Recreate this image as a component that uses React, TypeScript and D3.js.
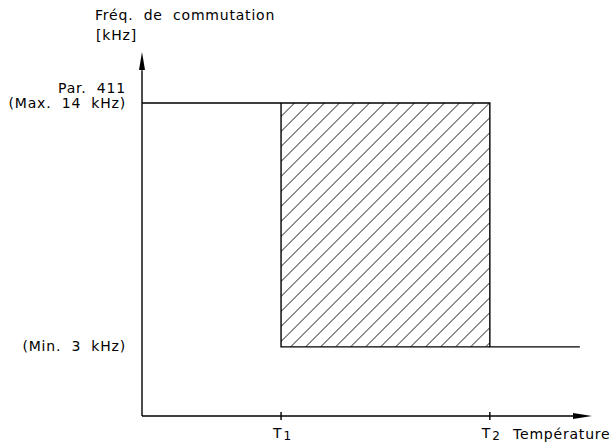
import React from "react";
import * as d3 from "d3";

// schematic data (normalized units)
const freqLevels = [0.19, 0.86]; // min, max switching frequency level
const levelLabelsMax = ["Par. 411", "(Max. 14 kHz)"];
const levelLabelsMin = ["(Min. 3 kHz)"];
const tempTicks = [3.09, 7.73];
const tempTickNames = ["1", "2"];
const xEnd = 9.73;
const yTitle = ["Fréq. de commutation", "[kHz]"];
const xTitle = "Température";

const W = 610, H = 443;
const FONT = "DejaVu Sans";

export default function App() {
  const x = d3.scaleLinear().domain([0, 10]).range([142, 592]);
  const y = d3.scaleLinear().domain([0, 1]).range([416, 52]);
  const [minL, maxL] = freqLevels;
  const [t1, t2] = tempTicks;

  const rx = x(t1), rw = x(t2) - x(t1);
  const ry = y(maxL), rh = y(minL) - y(maxL);

  const hatch: JSX.Element[] = [];
  const step = 15;
  const c0 = Math.floor((rx + ry) / step) * step + 7.5;
  for (let c = c0 - step; c <= rx + rw + ry + rh + step; c += step) {
    // line x + y = c  (rising to the right)
    hatch.push(
      <line key={c} x1={c - (ry + rh) - 2} y1={ry + rh + 2} x2={c - ry + 2} y2={ry - 2} stroke="#000" strokeWidth={0.9} />
    );
  }

  const line = d3.line<[number, number]>().x(d => x(d[0])).y(d => y(d[1]));
  const topPath = line([[0, maxL], [t2, maxL], [t2, minL], [xEnd, minL]]);
  const leftRect = line([[t1, maxL], [t1, minL], [t2, minL]]);

  const ts = { fontFamily: FONT, fontSize: 14, fill: "#000", letterSpacing: 0.8, wordSpacing: 5 } as any;

  return (
    <svg width={W} height={H} style={{ position: "absolute", left: 0, top: 0, background: "#fff" }}>
      <defs>
        <clipPath id="hc"><rect x={rx} y={ry} width={rw} height={rh} /></clipPath>
      </defs>
      <rect width={W} height={H} fill="#fff" />
      <g clipPath="url(#hc)">{hatch}</g>
      <path d={topPath || ""} fill="none" stroke="#000" strokeWidth={1.4} />
      <path d={leftRect || ""} fill="none" stroke="#000" strokeWidth={1.4} />
      {/* axes */}
      <line x1={x(0)} y1={y(0)} x2={x(0)} y2={y(0.95)} stroke="#000" strokeWidth={1.4} />
      <path d={`M${x(0)},${y(1)} L${x(0) - 3},${y(1) + 18} L${x(0) + 3},${y(1) + 18} Z`} fill="#000" />
      <line x1={x(0)} y1={y(0)} x2={x(9.6)} y2={y(0)} stroke="#000" strokeWidth={1.4} />
      <path d={`M${x(10)},${y(0)} L${x(10) - 19},${y(0) - 3} L${x(10) - 19},${y(0) + 3} Z`} fill="#000" />
      {tempTicks.map((t, i) => (
        <g key={i}>
          <line x1={x(t)} y1={y(0) - 4} x2={x(t)} y2={y(0) + 4} stroke="#000" strokeWidth={1.4} />
          <text x={x(t) - 8} y={y(0) + 22} style={ts}>T<tspan dx={1} dy={2} fontSize={12}>{tempTickNames[i]}</tspan></text>
        </g>
      ))}
      <text x={513} y={y(0) + 23} style={ts}>{xTitle}</text>
      <text x={95} y={20} style={ts}>{yTitle[0]}</text>
      <text x={96} y={40} style={ts}>{yTitle[1]}</text>
      <text x={126} y={y(maxL) - 10} textAnchor="end" style={ts}>{levelLabelsMax[0]}</text>
      <text x={126} y={y(maxL) + 5} textAnchor="end" style={ts}>{levelLabelsMax[1]}</text>
      <text x={126} y={y(minL) + 4} textAnchor="end" style={ts}>{levelLabelsMin[0]}</text>
    </svg>
  );
}
